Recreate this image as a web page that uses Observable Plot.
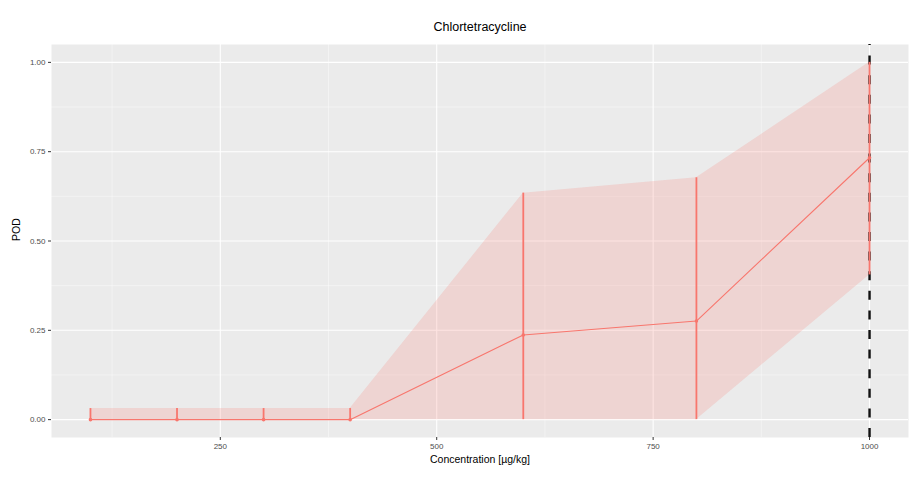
<!DOCTYPE html>
<html>
<head>
<meta charset="utf-8">
<script src="https://cdn.jsdelivr.net/npm/d3@7"></script>
<script src="https://cdn.jsdelivr.net/npm/@observablehq/plot@0.6"></script>
<style>
  html, body { margin: 0; padding: 0; background: #fff; }
  svg { font-family: "Liberation Sans", Arial, sans-serif; }
</style>
</head>
<body>
<div id="chart"></div>
<script>
// Probability of detection for chlortetracycline at each spiking level
const concentration = [100, 200, 300, 400, 600, 800, 1000];
const pod = [0, 0, 0, 0, 0.237, 0.276, 0.733];
const podLower = [0, 0, 0, 0, 0, 0, 0.405];
const podUpper = [0.031, 0.031, 0.031, 0.031, 0.634, 0.677, 1.0];

const xTicks = [250, 500, 750, 1000];
const xMinor = [125, 375, 625, 875];
const yTicks = [0, 0.25, 0.5, 0.75, 1];
const yMinor = [0.125, 0.375, 0.625, 0.875];
const limitConcentration = [1000];

const rows = concentration.map((c, i) => ({
  conc: c, pod: pod[i], lo: podLower[i], hi: podUpper[i]
}));

const red = "#F8766D";

const chart = Plot.plot({
  width: 913,
  height: 484,
  marginLeft: 51,
  marginRight: 5,
  marginTop: 44,
  marginBottom: 47,
  style: { fontFamily: "Liberation Sans, Arial, sans-serif", background: "#fff" },
  x: { domain: [55, 1045], label: null },
  y: { domain: [-0.05, 1.05], label: null },
  marks: [
    Plot.frame({ fill: "#EBEBEB", stroke: null }),
    // minor grid
    Plot.gridX(xMinor, { stroke: "#fff", strokeOpacity: 0.8, strokeWidth: 0.5 }),
    Plot.gridY(yMinor, { stroke: "#fff", strokeOpacity: 0.8, strokeWidth: 0.5 }),
    // major grid
    Plot.gridX(xTicks, { stroke: "#fff", strokeOpacity: 1, strokeWidth: 1.1 }),
    Plot.gridY(yTicks, { stroke: "#fff", strokeOpacity: 1, strokeWidth: 1.1 }),
    Plot.axisX(xTicks, {
      tickSize: 3, stroke: "#333", tickPadding: 3, fontSize: 8, color: "#4D4D4D",
      tickFormat: d => String(d), label: null
    }),
    Plot.axisY(yTicks, {
      tickSize: 3, stroke: "#333", tickPadding: 3, fontSize: 8, color: "#4D4D4D",
      tickFormat: d3.format(".2f"), label: null
    }),
    // confidence band
    Plot.areaY(rows, { x: "conc", y1: "lo", y2: "hi", fill: red, fillOpacity: 0.2 }),
    // dashed reference line, dashes laid out from the bottom of the panel
    Plot.ruleX(limitConcentration, {
      y1: -0.05, y2: 1.05, stroke: "#111", strokeWidth: 2.4,
      strokeDasharray: "9,10.6"
    }),
    // interval bars
    Plot.ruleX(rows, { x: "conc", y1: "lo", y2: "hi", stroke: red, strokeWidth: 1.8 }),
    // fitted line and points
    Plot.line(rows, { x: "conc", y: "pod", stroke: red, strokeWidth: 1.1 }),
    Plot.dot(rows, { x: "conc", y: "pod", r: 1.8, fill: red, stroke: null }),
    // title and axis titles
    Plot.text(["Chlortetracycline"], {
      frameAnchor: "top", dy: -14, lineAnchor: "bottom", fontSize: 12.5, fill: "#000"
    }),
    Plot.text(["Concentration [µg/kg]"], {
      frameAnchor: "bottom", dy: 25, fontSize: 10.5, fill: "#000"
    }),
    Plot.text(["POD"], {
      frameAnchor: "left", dx: -35, rotate: -90, fontSize: 10.5, fill: "#000"
    })
  ]
});

document.getElementById("chart").appendChild(chart);
</script>
</body>
</html>
